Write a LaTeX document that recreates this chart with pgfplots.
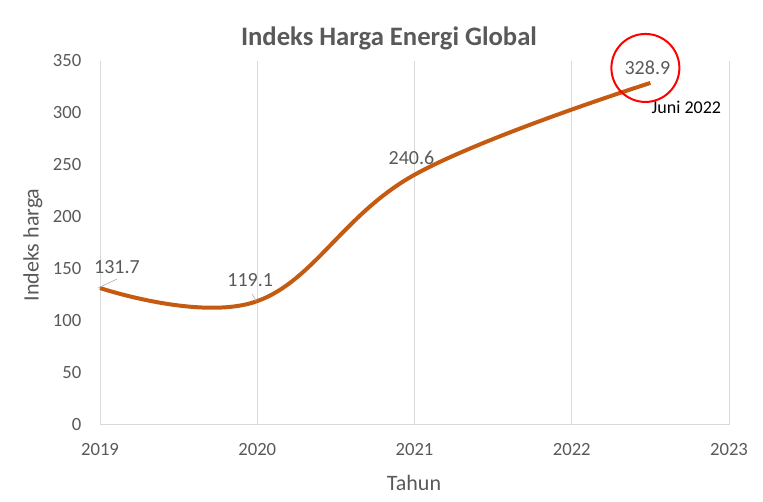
\documentclass[border=0pt]{standalone}
\usepackage{fontspec}
\setmainfont{Carlito}
\usepackage{pgfplots}
\pgfplotsset{compat=1.18}

\definecolor{lineor}{HTML}{C55A11}
\definecolor{txtgray}{HTML}{595959}
\definecolor{gridgray}{HTML}{D9D9D9}

\begin{document}
\begin{tikzpicture}
% canvas of the reference: 1px = 0.75pt
\useasboundingbox (0,0) rectangle (572.25pt,376.5pt);
\begin{axis}[
  at={(75pt,57.75pt)}, anchor=south west,
  scale only axis,
  width=471.75pt, height=273pt,
  xmin=2019, xmax=2023, ymin=0, ymax=350,
  xtick={2019,2020,2021,2022,2023},
  ytick={0,50,...,350},
  /pgf/number format/1000 sep={},
  /pgf/number format/assume math mode=true,
  xmajorgrids,
  grid style={gridgray, line width=0.75pt},
  axis x line*=bottom, axis y line*=left,
  x axis line style={gridgray, line width=0.75pt, -},
  y axis line style={draw=none},
  major tick length=0pt,
  tick label style={font=\fontsize{14}{16}\selectfont, text=txtgray},
  xticklabel style={yshift=-10.5pt},
  yticklabel style={xshift=-10.5pt},
  clip=false,
]
\addplot[lineor, line width=3pt, smooth, tension=0.65] coordinates {
  (2019,131.7) (2020,119.1) (2021,240.6) (2022.5,328.9)
};
% data labels
\begin{scope}[font=\fontsize{15}{17}\selectfont, text=txtgray]
\node at ([shift={(12.75pt,15.75pt)}]axis cs:2019,131.7) {131.7};
\node at ([shift={(-5.25pt,15.75pt)}]axis cs:2020,119.1) {119.1};
\node at ([shift={(-2.25pt,12.75pt)}]axis cs:2021,240.6) {240.6};
\node at ([shift={(-2.25pt,11.25pt)}]axis cs:2022.5,328.9) {328.9};
\end{scope}
\draw[gray!60, line width=0.5pt] ([shift={(-1.5pt,0pt)}]axis cs:2019,131.7) -- ([shift={(12.75pt,6.75pt)}]axis cs:2019,131.7);
\draw[gray!60, line width=0.5pt] ([shift={(-3.75pt,5.25pt)}]axis cs:2020,119.1) -- ([shift={(-0.75pt,0pt)}]axis cs:2020,119.1);
\draw[red, line width=1.5pt] ([shift={(-3.75pt,11.25pt)}]axis cs:2022.5,328.9) circle[radius=25.5pt];
\node[font=\fontsize{13.5}{15}\selectfont, text=black] at ([shift={(27pt,-18pt)}]axis cs:2022.5,328.9) {Juni 2022};
\end{axis}
\node[font=\bfseries\fontsize{20}{24}\selectfont, text=txtgray] at (291.75pt,348pt) {Indeks Harga Energi Global};
\node[font=\fontsize{16.5}{19}\selectfont, text=txtgray] at (310.5pt,14.25pt) {Tahun};
\node[font=\fontsize{16.5}{19}\selectfont, text=txtgray, rotate=90] at (24.75pt,192.75pt) {Indeks harga};
\end{tikzpicture}
\end{document}
